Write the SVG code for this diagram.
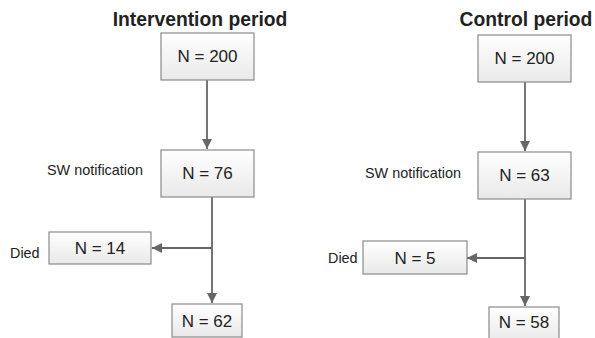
<svg xmlns="http://www.w3.org/2000/svg" width="595" height="338" viewBox="0 0 595 338">
<defs>
<linearGradient id="g" x1="0" y1="0" x2="0" y2="1">
<stop offset="0" stop-color="#ffffff"/>
<stop offset="1" stop-color="#e9e9e9"/>
</linearGradient>
<marker id="ah" viewBox="0 0 10 10" refX="10" refY="5" markerWidth="10" markerHeight="10" markerUnits="userSpaceOnUse" orient="auto">
<path d="M0,0 L10,5 L0,10 Z" fill="#666666"/>
</marker>
<style>
.box{fill:url(#g);stroke:#8a8a8a;stroke-width:1.2}
.t{font-family:"Liberation Sans",Arial,sans-serif;font-size:17px;fill:#222;text-anchor:middle}
.lbl{font-family:"Liberation Sans",Arial,sans-serif;font-size:14.4px;fill:#222}
.title{font-family:"Liberation Sans",Arial,sans-serif;font-size:19.3px;font-weight:bold;fill:#222;text-anchor:middle}
.c{stroke:#666666;stroke-width:1.8;fill:none}
</style>
</defs>
<rect width="595" height="338" fill="#ffffff"/>
<text class="title" x="200" y="26">Intervention period</text>
<text class="title" x="526" y="26">Control period</text>
<g id="connectors">
<line class="c" x1="207" y1="80" x2="207" y2="149" marker-end="url(#ah)"/>
<line class="c" x1="212" y1="197" x2="212" y2="303" marker-end="url(#ah)"/>
<line class="c" x1="212" y1="248" x2="152" y2="248" marker-end="url(#ah)"/>
<line class="c" x1="525" y1="82" x2="525" y2="151" marker-end="url(#ah)"/>
<line class="c" x1="525" y1="199" x2="525" y2="306" marker-end="url(#ah)"/>
<line class="c" x1="525" y1="258" x2="467" y2="258" marker-end="url(#ah)"/>
</g>
<g id="i200"><rect class="box" x="161" y="33" width="93" height="47"/><text class="t" x="207.5" y="62">N = 200</text></g>
<g id="i76"><rect class="box" x="161" y="150" width="93" height="47"/><text class="t" x="207.5" y="179">N = 76</text><text class="lbl" x="143" y="175" text-anchor="end">SW notification</text></g>
<g id="i14"><rect class="box" x="49" y="232" width="102" height="32"/><text class="t" x="100" y="254">N = 14</text><text class="lbl" x="10" y="258">Died</text></g>
<g id="i62"><rect class="box" x="172" y="304" width="70" height="33"/><text class="t" x="207" y="327">N = 62</text></g>
<g id="c200"><rect class="box" x="478" y="35" width="93" height="47"/><text class="t" x="524.5" y="64">N = 200</text></g>
<g id="c63"><rect class="box" x="478" y="152" width="93" height="47"/><text class="t" x="524.5" y="181">N = 63</text><text class="lbl" x="461" y="178" text-anchor="end">SW notification</text></g>
<g id="c5"><rect class="box" x="363" y="241" width="104" height="33"/><text class="t" x="415" y="264">N = 5</text><text class="lbl" x="328" y="263">Died</text></g>
<g id="c58"><rect class="box" x="489" y="307" width="70" height="35"/><text class="t" x="524" y="328">N = 58</text></g>
</svg>
